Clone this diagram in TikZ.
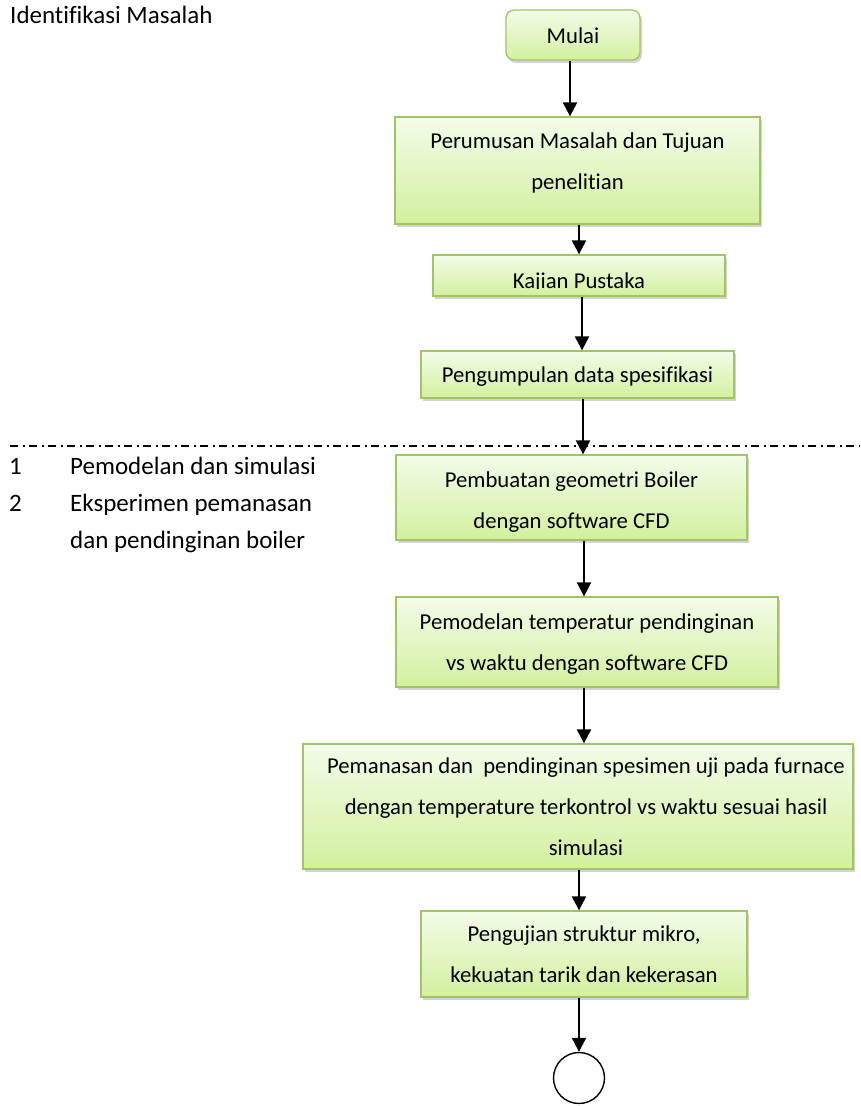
\documentclass[tikz,border=0pt]{standalone}
\usepackage{fontspec}
\setmainfont{Carlito}[Ligatures=NoCommon]
\usetikzlibrary{arrows.meta,shadows}
\definecolor{boxtop}{HTML}{F3FCE9}
\definecolor{boxbot}{HTML}{D2F09E}
\definecolor{boxline}{HTML}{A2C465}
\newcommand\diafont{\fontsize{22.7}{41}\selectfont}
\newcommand\sidefont{\fontsize{25}{37}\selectfont}
\tikzset{
  flowbox/.style={draw=boxline, line width=1.3pt, top color=boxtop, bottom color=boxbot,
    drop shadow={opacity=0.35, shadow xshift=2pt, shadow yshift=-3pt},
    align=center, inner sep=0pt, font=\diafont},
  arr/.style={line width=2.2pt, -{Triangle[width=14pt,length=14pt]}},
  txt/.style={inner sep=0pt, font=\sidefont, text height=16pt, text depth=5pt},
  sepline/.style={line width=1.6pt, dash pattern=on 8pt off 4.5pt on 2pt off 4.5pt}
}
\begin{document}
\begin{tikzpicture}[x=1pt,y=-1pt]
\useasboundingbox (0,0) rectangle (860,1106);

\node[txt, anchor=west] (ident) at (10,18) {Identifikasi Masalah};

\node[flowbox, rounded corners=8pt, minimum width=134pt, minimum height=50pt] (mulai) at (573,35) {\strut Mulai};
\node[flowbox, minimum width=365pt, minimum height=107pt, text depth=32pt] (rumus) at (577.5,170.5)
  {\strut Perumusan Masalah dan Tujuan\\\strut penelitian};
\node[flowbox, minimum width=292pt, minimum height=41pt] (kajian) at (579,275.5) {};
\begin{scope}
  \clip (kajian.north west) rectangle ([yshift=8pt]kajian.south east);
  \node[txt, font=\diafont] (kajiantext) at (579,282.5) {Kajian Pustaka};
\end{scope}
\node[flowbox, minimum width=313pt, minimum height=47pt] (kumpul) at (577.5,374.5) {\strut Pengumpulan data spesifikasi};

\coordinate (sepL) at (10,446);
\coordinate (sepR) at (860,446);
\draw[sepline] (sepL) -- (sepR);

\node[txt, anchor=west] (n1) at (9,469) {1};
\node[txt, anchor=west] (t1) at (70,469) {Pemodelan dan simulasi};
\node[txt, anchor=west] (n2) at (9,506) {2};
\node[txt, anchor=west] (t2) at (70,506) {Eksperimen pemanasan};
\node[txt, anchor=west] (t3) at (70,543) {dan pendinginan boiler};

\node[flowbox, minimum width=351pt, minimum height=85pt, text depth=8pt] (buat) at (571.5,497.5)
  {\strut Pembuatan geometri Boiler\\\strut dengan software CFD};
\node[flowbox, minimum width=382pt, minimum height=90pt] (model) at (587,642)
  {\strut Pemodelan temperatur pendinginan\\\strut vs waktu dengan software CFD};
\node[flowbox, minimum width=550pt, minimum height=125pt] (panas) at (578,806.5)
  {\hspace*{16pt}\strut Pemanasan dan \ pendinginan spesimen uji pada furnace\\\hspace*{16pt}\strut dengan temperature terkontrol vs waktu sesuai hasil\\\hspace*{16pt}\strut simulasi};
\node[flowbox, minimum width=326pt, minimum height=86pt] (uji) at (584,954)
  {\strut Pengujian struktur mikro,\\\strut kekuatan tarik dan kekerasan};
\node[draw, circle, line width=1.4pt, minimum size=51pt, inner sep=0pt, fill=white] (akhir) at (579,1078) {};

\draw[arr] ([xshift=-3pt]mulai.south) -- ([xshift=-3pt]mulai.south |- rumus.north);
\draw[arr] ([xshift=1.5pt]rumus.south) -- ([xshift=1.5pt]rumus.south |- kajian.north);
\draw[arr] ([xshift=3pt]kajian.south) -- ([xshift=3pt]kajian.south |- kumpul.north);
\draw[arr] ([xshift=5.5pt]kumpul.south) -- ([xshift=5.5pt]kumpul.south |- buat.north);
\draw[arr] ([xshift=12.5pt]buat.south) -- ([xshift=12.5pt]buat.south |- model.north);
\draw[arr] ([xshift=-3pt]model.south) -- ([xshift=-3pt]model.south |- panas.north);
\draw[arr] ([xshift=1pt]panas.south) -- ([xshift=1pt]panas.south |- uji.north);
\draw[arr] ([xshift=-5pt]uji.south) -- (akhir.north);
\end{tikzpicture}
\end{document}
